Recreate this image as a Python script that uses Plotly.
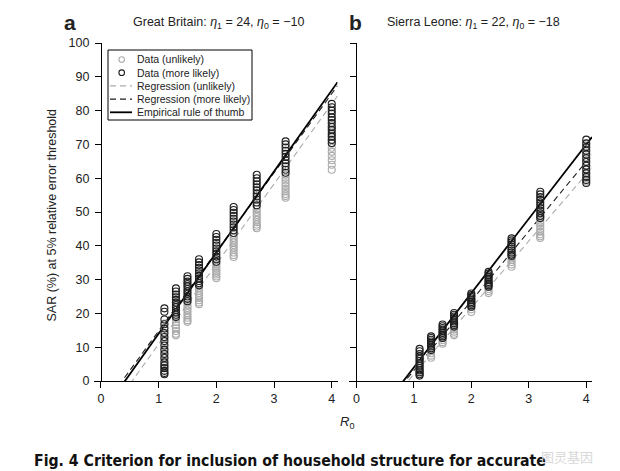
import plotly.graph_objects as go

# ---------------- data ----------------
R0 = [1.1, 1.3, 1.5, 1.7, 2.0, 2.3, 2.7, 3.2, 4.0]

# Great Britain (panel a)
gb_more = [
    [21.5, 20.5, 18.2, 16.8, 15.5, 14.2, 13.0, 11.8, 10.5, 9.2, 8.0, 6.8, 5.5, 4.6, 3.8, 3.0, 2.4, 2.0],
    [27.4, 26.5, 25.6, 24.8, 24.0, 23.2, 22.5, 21.8, 21.0, 20.3, 19.6, 18.9],
    [31.0, 30.2, 29.4, 28.7, 28.0, 27.2, 26.5, 25.8, 25.0, 24.3, 23.6],
    [36.0, 35.1, 34.3, 33.5, 32.7, 31.9, 31.1, 30.3, 29.6, 28.9, 28.3],
    [43.5, 42.6, 41.8, 40.9, 40.1, 39.2, 38.4, 37.6, 36.8, 36.0, 35.3],
    [51.5, 50.6, 49.8, 48.9, 48.0, 47.2, 46.3, 45.5, 44.6, 43.8],
    [61.0, 60.0, 59.1, 58.2, 57.3, 56.4, 55.5, 54.6, 53.7, 52.8, 52.0],
    [70.9, 70.0, 69.1, 68.1, 67.2, 66.3, 65.3, 64.4, 63.5, 62.5, 61.6],
    [82.0, 81.0, 80.0, 79.1, 78.0, 77.2, 76.3, 75.2, 74.3, 73.2, 72.3, 71.3, 70.4],
]
gb_unlikely = [
    [17.0, 15.8, 14.0, 12.5, 11.0, 9.6, 8.3, 7.0, 5.8, 4.8, 4.0],
    [22.0, 21.0, 20.1, 19.2, 18.3, 17.4, 16.5, 15.6, 14.8, 14.0, 13.5],
    [24.0, 23.2, 22.4, 21.6, 20.9, 20.1, 19.4, 18.7, 18.0, 17.5],
    [29.0, 28.2, 27.5, 26.7, 26.0, 25.3, 24.6, 23.9, 23.2, 22.7],
    [35.0, 34.4, 33.8, 33.2, 32.6, 32.0, 31.5, 30.9, 30.4],
    [43.2, 42.4, 41.7, 41.0, 40.2, 39.5, 38.8, 38.0, 37.3, 36.7],
    [51.6, 50.8, 50.0, 49.2, 48.5, 47.7, 47.0, 46.3, 45.7, 45.2],
    [61.0, 60.1, 59.3, 58.5, 57.7, 56.9, 56.1, 55.3, 54.7, 54.2],
    [76.0, 75.0, 73.8, 72.6, 71.4, 70.2, 69.0, 67.8, 66.6, 65.3, 64.0, 62.5],
]

# Sierra Leone (panel b)
sl_more = [
    [9.5, 8.8, 8.0, 7.3, 6.6, 5.9, 5.2, 4.5, 3.8, 3.2, 2.6, 2.0, 1.6],
    [13.2, 12.7, 12.2, 11.7, 11.2, 10.7, 10.2, 9.7, 9.2],
    [16.7, 16.2, 15.7, 15.2, 14.7, 14.2, 13.7, 13.2, 12.7],
    [20.1, 19.6, 19.1, 18.6, 18.1, 17.6, 17.1, 16.6, 16.1],
    [25.9, 25.4, 24.9, 24.4, 23.9, 23.4, 22.9, 22.4, 22.0],
    [32.3, 31.8, 31.3, 30.8, 30.3, 29.8, 29.3, 28.8, 28.3, 27.9],
    [42.2, 41.6, 41.0, 40.4, 39.8, 39.2, 38.6, 38.0, 37.4, 37.0],
    [56.0, 55.2, 54.4, 53.6, 52.8, 52.0, 51.2, 50.4, 49.6, 48.8, 48.2],
    [71.4, 70.3, 69.2, 68.1, 67.0, 65.9, 64.8, 63.7, 62.6, 61.5, 60.4, 59.5, 58.6],
]
sl_unlikely = [
    [8.0, 7.0, 6.0, 5.0, 4.0, 3.0, 2.2],
    [11.0, 10.3, 9.6, 8.9, 8.2, 7.5, 6.9],
    [14.5, 13.9, 13.3, 12.7, 12.1, 11.5, 11.0],
    [17.0, 16.4, 15.8, 15.2, 14.6, 14.0, 13.5],
    [24.0, 23.3, 22.6, 21.9, 21.2, 20.4],
    [29.0, 28.4, 27.8, 27.2, 26.6, 26.0],
    [38.0, 37.3, 36.6, 35.9, 35.2, 34.5, 33.8],
    [49.0, 48.2, 47.4, 46.6, 45.8, 45.0, 44.2, 43.4, 42.8, 42.3],
    [70.0, 68.8, 67.5, 66.2, 65.0, 63.8, 62.5, 61.2, 60.0, 59.0],
]

# line coefficients (slope, intercept): SAR = slope * R0 + intercept
gb_rule = (24, -10)
gb_reg_more = (23.4, -8.6)
gb_reg_unlikely = (23.7, -12.8)
sl_rule = (22, -18)
sl_reg_more = (20.6, -17.5)
sl_reg_unlikely = (19.7, -17.7)

line_x = [0.0, 4.1]

x_ticks = [0, 1, 2, 3, 4]
y_ticks = [0, 10, 20, 30, 40, 50, 60, 70, 80, 90, 100]

legend_labels = ["Data (unlikely)", "Data (more likely)", "Regression (unlikely)",
                 "Regression (more likely)", "Empirical rule of thumb"]

# ---------------- styles ----------------
DARK = "#1e1e1e"
GREY = "#ababab"
FONT = "Liberation Sans, Arial, sans-serif"

fig = go.Figure()


def flat(cols):
    xs, ys = [], []
    for r, vals in zip(R0, cols):
        for v in vals:
            xs.append(r)
            ys.append(v)
    return xs, ys


def add_panel(unlikely, more, reg_u, reg_m, rule, xa, ya):
    for coef, color, dash, width in [(reg_u, GREY, "6px,4px", 1.1),
                                     (reg_m, DARK, "6px,4px", 1.1),
                                     (rule, "black", "solid", 1.8)]:
        fig.add_trace(go.Scatter(
            x=line_x, y=[coef[0] * x + coef[1] for x in line_x],
            mode="lines", line=dict(color=color, dash=dash, width=width),
            xaxis=xa, yaxis=ya, showlegend=False, hoverinfo="skip"))
    for cols, color in [(unlikely, GREY), (more, DARK)]:
        xs, ys = flat(cols)
        fig.add_trace(go.Scatter(
            x=xs, y=ys, mode="markers",
            marker=dict(symbol="circle-open", size=7, color=color, line=dict(width=1.1, color=color)),
            xaxis=xa, yaxis=ya, showlegend=False, cliponaxis=False))


add_panel(gb_unlikely, gb_more, gb_reg_unlikely, gb_reg_more, gb_rule, "x", "y")
add_panel(sl_unlikely, sl_more, sl_reg_unlikely, sl_reg_more, sl_rule, "x2", "y2")

xr = [-0.12, 4.1]
axis_common = dict(showgrid=False, zeroline=False, showline=True, linecolor="black",
                   linewidth=1, ticks="outside", ticklen=6, tickcolor="black",
                   tickfont=dict(family=FONT, size=12.5, color="#222"))

dom_a = [0.0, 0.489]
dom_b = [0.513, 1.0]
pos_a = dom_a[0] + (0 - xr[0]) / (xr[1] - xr[0]) * (dom_a[1] - dom_a[0])
pos_b = dom_b[0] + (0 - xr[0]) / (xr[1] - xr[0]) * (dom_b[1] - dom_b[0])

fig.update_layout(
    width=620, height=471,
    margin=dict(l=94, r=28, t=43, b=90),
    paper_bgcolor="white", plot_bgcolor="white",
    showlegend=False,
    font=dict(family=FONT, color="#222"),
    xaxis=dict(domain=dom_a, range=xr, tickvals=x_ticks, anchor="y", **axis_common),
    xaxis2=dict(domain=dom_b, range=xr, tickvals=x_ticks, anchor="y2", **axis_common),
    yaxis=dict(range=[0, 100], tickvals=y_ticks, anchor="free", position=pos_a,
               ticklabelstandoff=3, **axis_common),
    yaxis2=dict(range=[0, 100], tickvals=y_ticks, anchor="free", position=pos_b,
                showticklabels=False, **axis_common),
)

ann = []
# panel labels and titles
ann.append(dict(text="<b>a</b>", x=-0.048, y=1.062, font=dict(size=21, color="#222")))
ann.append(dict(text="Great Britain: <i>η</i><sub>1</sub> = 24, <i>η</i><sub>0</sub> = \u221210",
                x=0.251, y=1.058, font=dict(size=12.5, color="#222")))
ann.append(dict(text="<b>b</b>", x=0.526, y=1.062, font=dict(size=21, color="#222")))
ann.append(dict(text="Sierra Leone: <i>η</i><sub>1</sub> = 22, <i>η</i><sub>0</sub> = \u221218",
                x=0.762, y=1.058, font=dict(size=12.5, color="#222")))
# axis titles
ann.append(dict(text="SAR (%) at 5% relative error threshold", x=-0.084, y=0.49,
                textangle=-90, font=dict(size=12.5, color="#222")))
ann.append(dict(text="<i>R</i><sub>0</sub>", x=0.508, y=-0.124, font=dict(size=13, color="#222")))
# caption
ann.append(dict(text="<b>Fig. 4 Criterion for inclusion of household structure for accurate</b>",
                x=0.393, y=-0.234,
                font=dict(family="Liberation Sans Narrow, DejaVu Sans Condensed, Liberation Sans",
                          size=15.7, color="#111")))
# watermark
ann.append(dict(text="图灵基因", x=0.95, y=-0.222,
                font=dict(family="Noto Sans CJK SC", size=13, color="#d8d8d8")))

# manual legend (panel a)
W, H, L, T = 498.0, 338.0, 94.0, 43.0
def px(xp):
    return (xp - L) / W
def py(yp):
    return (T + H - yp) / H

shapes = [dict(type="rect", xref="paper", yref="paper", x0=px(108), x1=px(252),
               y0=py(120), y1=py(50), line=dict(color="black", width=1), fillcolor="white",
               layer="above")]
leg_styles = [("marker", GREY), ("marker", DARK), ("dash", GREY), ("dash", DARK), ("solid", "black")]
for i, (label, (kind, color)) in enumerate(zip(legend_labels, leg_styles)):
    yc = py(59.5 + i * 13.2)
    if kind == "marker":
        shapes.append(dict(type="circle", xref="paper", yref="paper",
                           xsizemode="pixel", ysizemode="pixel",
                           xanchor=px(121.7), yanchor=yc, x0=-2.8, x1=2.8, y0=-2.8, y1=2.8,
                           line=dict(color=color, width=1.1), layer="above"))
    else:
        shapes.append(dict(type="line", xref="paper", yref="paper",
                           x0=px(110), x1=px(132), y0=yc, y1=yc, layer="above",
                           line=dict(color=color, width=1.8 if kind == "solid" else 1.1,
                                     dash="6px,4px" if kind == "dash" else "solid")))
    ann.append(dict(text=label, x=px(135), y=yc, xanchor="left",
                    font=dict(size=10.5, color="#222")))

for a in ann:
    a.setdefault("xref", "paper")
    a.setdefault("yref", "paper")
    a.setdefault("showarrow", False)
    a.setdefault("xanchor", "center")
    a.setdefault("yanchor", "middle")

fig.update_layout(annotations=ann, shapes=shapes)
fig.write_html("out.html", config={"displayModeBar": False},
               post_script="document.body.style.margin='0px';document.body.style.overflow='hidden';")
